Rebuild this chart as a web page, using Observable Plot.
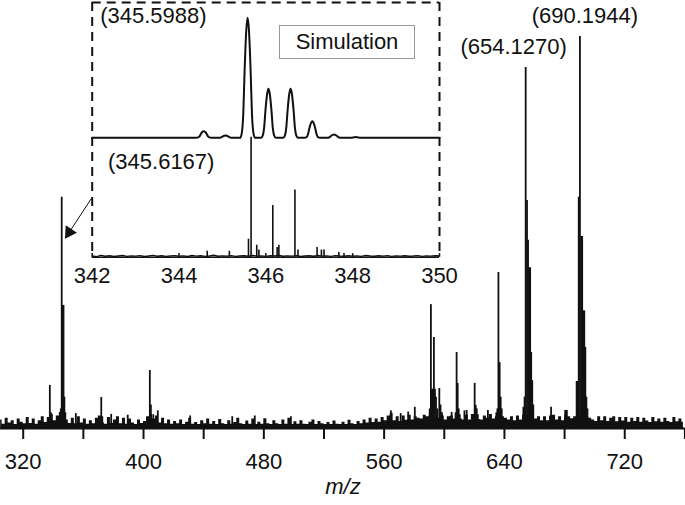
<!DOCTYPE html>
<html><head><meta charset="utf-8">
<script src="https://cdn.jsdelivr.net/npm/d3@7"></script>
<script src="https://cdn.jsdelivr.net/npm/@observablehq/plot@0.6"></script>
<style>
body{margin:0;background:#fff;}
#wrap{position:relative;width:685px;height:505px;font-family:"Liberation Sans",Arial,sans-serif;}
#wrap svg{position:absolute;left:0;top:0;}
#sim{position:absolute;left:279px;top:25px;width:134px;height:32px;border:1px solid #999;font-size:22px;line-height:32px;text-align:center;color:#111;background:#fff;}
</style></head><body>
<div id="wrap"></div>
<script>
// ---------- main spectrum ----------
const mainTicks = [320, 360, 400, 440, 480, 520, 560, 600, 640, 680, 720, 760];
const mainTickLabels = [320, 400, 480, 560, 640, 720];

// baseline noise, one value every 2 m/z units from 305 to 759 (% of base peak)
const noiseStart = 305, noiseStep = 2;
const noise = [
  2.2,1.1,2.6,1.4,2.0,1.0,2.4,1.6,1.2,2.8,
  1.3,2.4,1.1,2.0,3.0,1.5,2.8,3.6,2.0,3.2,
  4.0,3.2,2.2,1.3,2.6,1.2,3.0,1.4,2.4,1.1,
  2.0,1.2,2.6,3.2,1.4,1.1,2.8,1.3,2.2,3.0,
  1.2,2.6,1.1,2.4,1.4,1.0,2.2,1.3,1.8,3.0,
  3.6,2.4,3.2,1.4,2.6,1.2,2.2,1.1,1.8,1.2,
  2.2,1.0,1.6,2.6,1.1,1.5,1.0,2.0,1.2,2.4,
  1.1,1.8,1.0,2.3,1.2,1.0,2.0,1.1,1.5,2.6,
  1.2,1.0,1.9,1.1,2.4,1.0,1.6,1.1,2.5,1.2,
  1.0,2.0,1.2,1.0,2.2,1.1,2.6,1.0,1.7,1.1,
  2.0,1.1,1.0,1.6,2.2,1.0,1.8,1.2,1.0,1.5,
  1.0,1.9,1.1,1.0,1.6,1.0,2.1,1.2,1.0,1.8,
  1.2,2.2,1.4,2.6,1.5,2.4,1.6,2.8,2.0,3.2,
  3.8,2.0,3.0,1.8,3.2,2.1,3.4,2.2,3.0,2.6,
  2.4,3.4,3.0,3.6,3.5,3.0,2.6,3.2,2.2,3.0,
  3.2,2.4,3.4,2.4,2.2,3.4,2.2,3.6,2.6,2.3,
  2.2,3.2,2.6,3.6,2.4,3.0,3.6,3.0,2.6,2.2,
  3.0,2.0,3.2,2.2,3.4,3.5,3.6,3.0,2.4,3.0,
  2.0,3.0,2.0,3.2,3.4,2.2,3.0,2.0,3.4,3.0,
  2.5,3.0,3.5,3.5,3.5,3.0,2.6,2.2,1.8,3.0,
  2.0,3.0,1.8,2.6,3.0,1.7,2.8,1.9,2.8,1.6,
  2.6,1.8,2.8,1.6,2.6,1.9,1.5,2.8,1.7,2.4,
  1.6,2.6,1.8,1.5,2.8,1.7,2.4,1.6
];

const peakMz = [
  337.7, 338.4,
  344.4, 345.0, 345.6, 346.2, 346.8, 347.4, 348.0,
  355.0, 371.9, 372.6, 378.5, 389.5,
  404.2, 404.9, 406.5, 409.5, 431.0, 459.0, 474.0, 498.0,
  564.5, 571.0, 576.0, 580.4,
  590.3, 591.1, 591.8, 592.4, 593.1, 593.8, 594.5, 595.4, 596.7, 597.5, 598.5,
  604.9, 607.5, 608.2, 608.9, 609.6, 610.3, 613.4, 614.9,
  619.5, 620.2, 620.9, 621.6, 622.3, 629.0,
  634.6, 635.3, 636.0, 636.8, 637.5, 638.2,
  652.6, 653.4, 654.127, 655.0, 655.7, 656.4, 657.1, 657.8, 658.5, 659.2,
  671.0, 680.4, 681.5,
  688.0, 688.8, 689.4, 690.1944, 691.0, 691.7, 692.4, 693.1, 693.8, 694.5, 695.2
];
const peakInt = [
  11.0, 4.0,
  4.0, 5.0, 59.0, 31.4, 31.4, 8.0, 4.0,
  3.8, 7.9, 3.0, 3.6, 3.4,
  14.8, 6.0, 3.5, 4.5, 3.2, 3.0, 3.2, 3.0,
  4.5, 3.8, 4.2, 5.4,
  5.0, 31.6, 10.0, 10.0, 23.2, 10.0, 8.0, 5.0, 10.2, 6.0, 4.0,
  4.1, 4.0, 19.4, 11.5, 5.0, 3.5, 4.5, 4.6,
  3.5, 11.5, 5.9, 5.0, 3.5, 4.6,
  4.0, 5.0, 39.8, 16.8, 8.0, 5.0,
  5.4, 8.0, 92.1, 58.2, 48.0, 41.0, 41.0, 19.4, 12.2, 6.0,
  5.4, 4.6, 4.6,
  12.0, 12.0, 59.0, 100, 49.0, 49.0, 30.0, 30.0, 20.7, 8.0, 5.0
];

const mainLabelMz = [654.127, 690.1944];
const mainLabelInt = [92.1, 100];
const mainLabelText = ["(654.1270)", "(690.1944)"];

// arrow from inset to the 345.6 peak (data space of main chart)
const arrowFrom = [365.2, 58.6];
const arrowTo = [348.8, 49.0];

// ---------- inset ----------
const insetTicks = [342, 344, 346, 348, 350];
const SIM_OFFSET = 99.5;

const simMz = [
  342.00,
  344.40,344.44,344.47,344.50,344.54,344.57,344.60,344.64,344.67,344.70,344.74,
  344.90,344.94,344.97,345.00,345.04,345.07,345.10,345.14,345.17,345.20,345.24,
  345.41,345.45,345.48,345.51,345.55,345.58,345.61,345.65,345.68,345.71,345.75,
  345.89,345.93,345.96,345.99,346.03,346.06,346.09,346.13,346.16,346.19,346.23,
  346.40,346.44,346.47,346.50,346.54,346.57,346.60,346.64,346.67,346.70,346.74,
  346.90,346.94,346.97,347.00,347.04,347.07,347.10,347.14,347.17,347.20,347.24,
  347.40,347.44,347.47,347.50,347.54,347.57,347.60,347.64,347.67,347.70,347.74,
  347.95,348.02,348.07,348.12,348.19,
  350.00
];
const simInt = [
  0,
  0,0.3,1.1,3.0,5.0,5.5,5.0,3.0,1.1,0.3,0,
  0,0.1,0.4,1.0,1.7,1.9,1.7,1.0,0.4,0.1,0,
  0,5,20,55,90,100,90,55,20,5,0,
  0,2.0,8.2,22.4,36.7,40.8,36.7,22.4,8.2,2.0,0,
  0,2.0,8.2,22.4,36.7,40.8,36.7,22.4,8.2,2.0,0,
  0,0.7,2.8,7.6,12.4,13.8,12.4,7.6,2.8,0.7,0,
  0,0.1,0.6,1.5,2.5,2.8,2.5,1.5,0.6,0.1,0,
  0,0.3,0.6,0.3,0,
  0
];

// experimental trace in inset: noise every 0.1 from 342 to 350, plus peaks
const expNoiseStart = 342, expNoiseStep = 0.1;
const expNoise = [
  1.0,0.5,1.5,0.8,1.2,0.6,1.0,1.4,0.7,1.1,
  0.9,1.3,0.6,1.0,1.5,0.8,1.2,0.7,1.0,1.3,
  0.8,1.1,0.6,1.4,0.9,1.2,0.7,1.0,1.6,0.8,
  1.1,0.9,1.3,0.7,1.0,1.2,0.8,1.5,0.9,1.1,
  0.7,1.2,1.0,1.4,0.8,1.1,0.9,1.3,0.6,1.0,
  1.2,0.8,1.4,0.9,1.1,0.7,1.3,1.0,0.8,1.2,
  0.9,1.1,0.7,1.4,1.0,0.8,1.2,0.9,1.3,0.7,
  1.1,0.9,1.2,0.8,1.0,1.3,0.7,1.1,0.9,1.2,
  1.0
];
const expPeakMz = [344.65, 345.16, 345.60, 345.66, 345.79, 345.84, 346.16, 346.26, 346.30, 346.67, 346.74, 347.18, 347.28, 347.34, 347.68, 347.80];
const expPeakInt = [5, 5, 15, 100, 10, 6, 43, 8, 10, 56, 6, 8, 6, 6, 4, 3];

const simLabel = {mz: 345.5988, text: "(345.5988)"};
const expLabel = {mz: 345.6167, text: "(345.6167)"};

// ---------- build ----------
const FONT = '"Liberation Sans", Arial, Helvetica, sans-serif';
const INK = "#111";

const noiseData = noise.map((v, i) => ({mz: noiseStart + i * noiseStep, int: v}));
const peakData = peakMz.map((m, i) => ({mz: m, int: peakInt[i]}));
const mainLabels = mainLabelMz.map((m, i) => ({mz: m, int: mainLabelInt[i], text: mainLabelText[i]}));

const main = Plot.plot({
  width: 685, height: 505,
  marginLeft: 0, marginRight: 0, marginTop: 0, marginBottom: 77,
  x: {domain: [304.9, 760.4], label: null},
  y: {domain: [0, 109.2], axis: null},
  style: {fontFamily: FONT, fontSize: "22px", color: INK, background: "transparent", overflow: "visible"},
  marks: [
    Plot.areaY(noiseData, {x: "mz", y: "int", curve: "step", fill: INK}),
    Plot.ruleX(peakData, {x: "mz", y1: 0, y2: "int", stroke: INK, strokeWidth: 1.8}),
    Plot.ruleY([0], {stroke: INK, strokeWidth: 2}),
    Plot.axisX({ticks: mainTicks, tickFormat: d => mainTickLabels.includes(d) ? String(d) : "",
      tickSize: 11, tickPadding: 14, strokeWidth: 2, fontSize: 22}),
    Plot.text(["m/z"], {frameAnchor: "bottom", dy: 65, fontStyle: "italic", fontSize: 22, fill: INK}),
    Plot.text(mainLabels.filter(d => d.mz < 670), {x: "mz", y: "int", text: "text", dx: -12, dy: -21, fontSize: 22, fill: INK}),
    Plot.text(mainLabels.filter(d => d.mz > 670), {x: "mz", y: "int", text: "text", dx: 5, dy: -21, fontSize: 22, fill: INK}),
    Plot.arrow([{x1: arrowFrom[0], y1: arrowFrom[1], x2: arrowTo[0], y2: arrowTo[1]}],
      {x1: "x1", y1: "y1", x2: "x2", y2: "y2", stroke: INK, strokeWidth: 1, headLength: 0, insetEnd: 6}),
    Plot.dot([{x: arrowTo[0], y: arrowTo[1]}],
      {x: "x", y: "y", symbol: "triangle", r: 5, rotate: 213, fill: INK, stroke: "none", dx: 2.7, dy: -4.2})
  ]
});

const simData = simMz.map((m, i) => ({mz: m, int: simInt[i] + SIM_OFFSET}));
const expNoiseData = expNoise.map((v, i) => ({mz: expNoiseStart + i * expNoiseStep, int: v}));
const expPeaks = expPeakMz.map((m, i) => ({mz: m, int: expPeakInt[i]}));
const yTop = 212.25;

const inset = Plot.plot({
  width: 685, height: 505,
  marginLeft: 91.7, marginRight: 246, marginTop: 2, marginBottom: 248.3,
  x: {domain: [342, 350], label: null},
  y: {domain: [0, yTop], axis: null},
  style: {fontFamily: FONT, fontSize: "22px", color: INK, background: "transparent", overflow: "visible"},
  marks: [
    Plot.ruleX([342, 350], {stroke: INK, strokeWidth: 2, strokeDasharray: "9,6"}),
    Plot.ruleY([yTop], {stroke: INK, strokeWidth: 2, strokeDasharray: "9,6"}),
    Plot.ruleY([0], {stroke: INK, strokeWidth: 1.5}),
    Plot.ruleX(insetTicks, {y1: 0, y2: 3, stroke: INK, strokeWidth: 1.5}),
    Plot.axisX({ticks: insetTicks, tickSize: 0, tickPadding: 10, fontSize: 22}),
    Plot.line(simData, {x: "mz", y: "int", curve: "monotone-x", stroke: INK, strokeWidth: 2}),
    Plot.line(expNoiseData, {x: "mz", y: "int", stroke: INK, strokeWidth: 1.4}),
    Plot.ruleX(expPeaks, {x: "mz", y1: 0, y2: "int", stroke: INK, strokeWidth: 1.6}),
    Plot.text([simLabel], {x: "mz", y: () => 100 + SIM_OFFSET, text: "text", dx: -95, dy: -2, fontSize: 22, fill: INK}),
    Plot.text([expLabel], {x: "mz", y: () => 100, text: "text", dx: -88, dy: 25, fontSize: 22, fill: INK})
  ]
});

const wrap = document.getElementById("wrap");
wrap.appendChild(main);
wrap.appendChild(inset);
const simBox = document.createElement("div");
simBox.id = "sim";
simBox.textContent = "Simulation";
wrap.appendChild(simBox);
</script>
</body></html>
